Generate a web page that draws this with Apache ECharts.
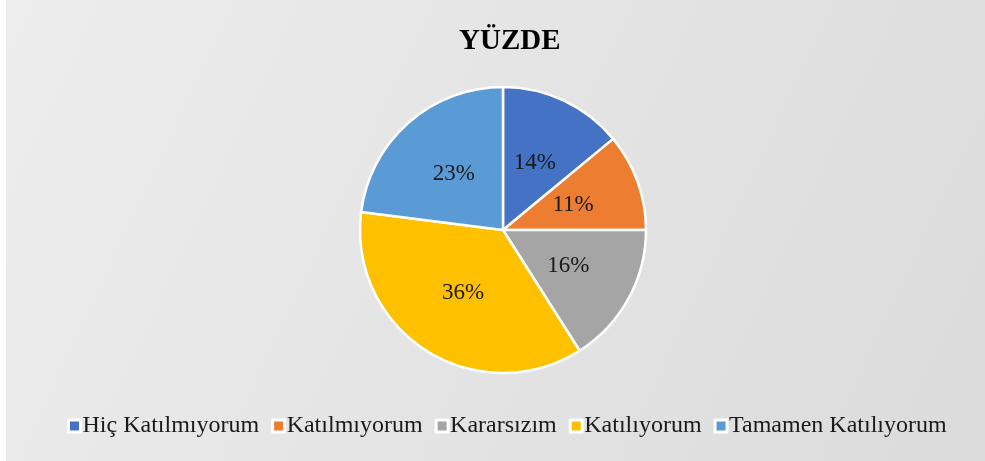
<!DOCTYPE html>
<html>
<head>
<meta charset="utf-8">
<script src="https://cdn.jsdelivr.net/npm/echarts@6/dist/echarts.min.js"></script>
<style>
  html, body { margin: 0; padding: 0; background: #fff; }
  #chart { width: 985px; height: 461px; }
</style>
</head>
<body>
<div id="chart"></div>
<script>
const categories = ['Hiç Katılmıyorum', 'Katılmıyorum', 'Kararsızım', 'Katılıyorum', 'Tamamen Katılıyorum']
const percents = [14, 11, 16, 36, 23]
const colors = ['#4472C4', '#ED7D31', '#A5A5A5', '#FFC000', '#5B9BD5']

const serif = '"Liberation Serif", "DejaVu Serif", serif'

const chart = echarts.init(document.getElementById('chart'))

chart.setOption({
  backgroundColor: {
    type: 'linear', x: 0, y: 0, x2: 1, y2: 1,
    colorStops: [
      { offset: 0, color: '#ededed' },
      { offset: 1, color: '#dbdbdb' }
    ]
  },
  color: colors,
  animation: false,
  // thin white margin on the left, like the exported picture
  graphic: [{
    type: 'rect', left: 0, top: 0, silent: true,
    shape: { width: 6, height: 461 },
    style: { fill: '#ffffff' }
  }],
  title: {
    text: 'YÜZDE',
    left: 454,
    top: 22,
    textStyle: { fontFamily: serif, fontWeight: 'bold', fontSize: 29, color: '#000' }
  },
  legend: {
    bottom: 18,
    left: 62,
    itemWidth: 12,
    itemHeight: 12,
    itemGap: 12,
    icon: 'rect',
    itemStyle: { borderColor: '#fff', borderWidth: 3 },
    textStyle: { fontFamily: serif, fontSize: 24, color: '#1a1a1a', padding: [0, 0, 0, -3] },
    data: categories
  },
  series: [{
    type: 'pie',
    center: [503, 230],
    radius: [0, 143],
    startAngle: 90,
    clockwise: true,
    itemStyle: { borderColor: '#fff', borderWidth: 2.5 },
    label: {
      position: 'inside',
      formatter: '{c}%',
      fontFamily: serif,
      fontSize: 23,
      color: '#1a1a1a'
    },
    labelLine: { show: false },
    data: categories.map((name, i) => ({ name: name, value: percents[i] }))
  }]
})
</script>
</body>
</html>
